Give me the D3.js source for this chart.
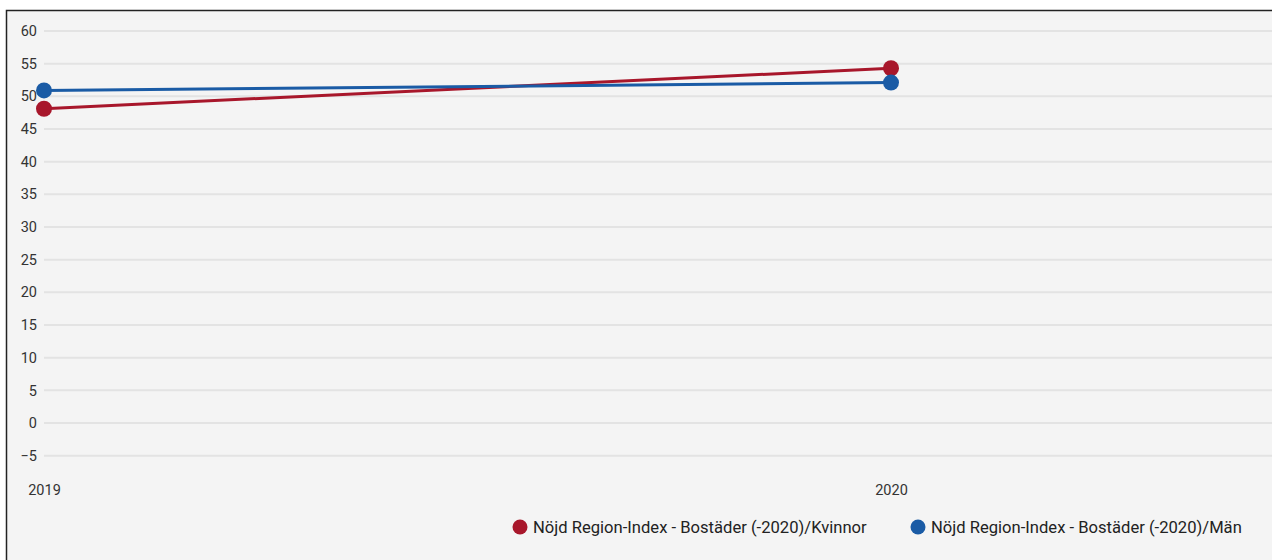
<!DOCTYPE html>
<html>
<head>
<meta charset="utf-8">
<script src="https://cdn.jsdelivr.net/npm/d3@7"></script>
<style>
  html, body { margin: 0; padding: 0; background: #fff; }
  svg { display: block; font-family: Roboto, "Noto Sans", sans-serif; }
</style>
</head>
<body>
<svg id="chart" width="1272" height="560"></svg>
<script>
// chart data
const years = ['2019', '2020']
const kvinnor = [48.1, 54.3]
const man = [50.9, 52.1]
const yTicks = [60, 55, 50, 45, 40, 35, 30, 25, 20, 15, 10, 5, 0, -5]
const seriesNames = ['Nöjd Region-Index - Bostäder (-2020)/Kvinnor', 'Nöjd Region-Index - Bostäder (-2020)/Män']

const colors = ['#a8172b', '#1a5ba5']

const svg = d3.select('#chart')

// panel background + border (left and top visible)
svg.append('rect').attr('x', 6).attr('y', 10).attr('width', 1266).attr('height', 550).attr('fill', '#f4f4f4')
svg.append('path').attr('d', 'M6.5,560 V10.5 H1272').attr('fill', 'none').attr('stroke', '#222').attr('stroke-width', 1.5)

// scales
var x = d3.scalePoint().domain(years).range([44, 891])
var y = d3.scaleLinear().domain([-5, 60]).range([455.7, 31])

// grid lines
svg.append('g').selectAll('line')
    .data(yTicks)
    .enter()
    .append('line')
    .attr('x1', 44).attr('x2', 1272)
    .attr('y1', d => y(d)).attr('y2', d => y(d))
    .attr('stroke', '#e3e3e3')
    .attr('stroke-width', 2)

// y axis labels
var yAxis = d3.axisLeft(y).tickValues(yTicks).tickSize(0).tickPadding(0)
svg.append('g')
    .attr('transform', 'translate(37,0)')
    .call(yAxis)
    .call(g => g.select('.domain').remove())
    .call(g => g.selectAll('text').attr('fill', '#333').attr('font-size', 14.5).attr('font-family', 'Roboto, sans-serif'))

// x axis labels
var xAxis = d3.axisBottom(x).tickSize(0).tickPadding(0)
svg.append('g')
    .attr('transform', 'translate(0,485)')
    .call(xAxis)
    .call(g => g.select('.domain').remove())
    .call(g => g.selectAll('text').attr('fill', '#333').attr('font-size', 14.5).attr('font-family', 'Roboto, sans-serif'))

// lines + points
var line = d3.line().x((d, i) => x(years[i])).y(d => y(d))
var allSeries = [kvinnor, man]

allSeries.forEach((vals, si) => {
    svg.append('path')
        .datum(vals)
        .attr('d', line)
        .attr('fill', 'none')
        .attr('stroke', colors[si])
        .attr('stroke-width', 3)
})
allSeries.forEach((vals, si) => {
    svg.append('g').selectAll('circle')
        .data(vals)
        .enter()
        .append('circle')
        .attr('cx', (d, i) => x(years[i]))
        .attr('cy', d => y(d))
        .attr('r', 8)
        .attr('fill', colors[si])
})

// legend
var legendX = [520, 918]
var legend = svg.append('g')
seriesNames.forEach((name, i) => {
    legend.append('circle')
        .attr('cx', legendX[i]).attr('cy', 527).attr('r', 7.5)
        .attr('fill', colors[i])
    legend.append('text')
        .attr('x', legendX[i] + 13).attr('y', 533)
        .attr('font-size', 16.6)
        .attr('fill', '#222')
        .text(name)
})
</script>
</body>
</html>
